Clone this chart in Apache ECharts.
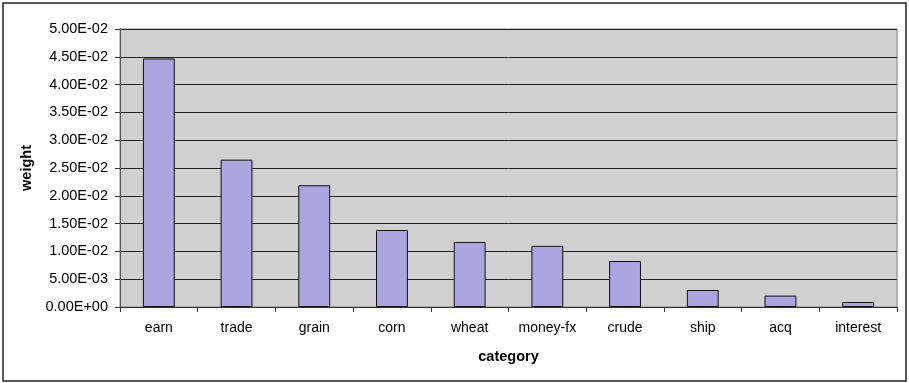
<!DOCTYPE html>
<html>
<head>
<meta charset="utf-8">
<script src="https://cdn.jsdelivr.net/npm/echarts@6/dist/echarts.min.js"></script>
<style>
html,body{margin:0;padding:0;background:#fff;}
#main{width:909px;height:383px;}
</style>
</head>
<body>
<div id="main"></div>
<script>
// categories and weights
var categories = ['earn','trade','grain','corn','wheat','money-fx','crude','ship','acq','interest'];
var weights = [0.0447, 0.0265, 0.0219, 0.01385, 0.0117, 0.0110, 0.00827, 0.00306, 0.00205, 0.0009];
var yMin = 0, yMax = 0.05, yStep = 0.005;

// 5.00E-02 style labels
function sci(v){
    var s = Number(v).toExponential(2).toUpperCase();
    var parts = s.split('E');
    var exp = parts[1];
    var sign = exp.charAt(0);
    var digits = exp.substring(1);
    if (digits.length < 2) digits = '0' + digits;
    return parts[0] + 'E' + sign + digits;
}

var myChart = echarts.init(document.getElementById('main'));
var option = {
    backgroundColor: '#fff',
    animation: false,
    textStyle: {fontFamily: 'Liberation Sans, Arial, sans-serif'},
    graphic: [{
        type: 'rect',
        shape: {x: 3, y: 3, width: 903, height: 378},
        style: {fill: 'none', stroke: '#222', lineWidth: 1.5},
        silent: true,
        z: 100
    }],
    grid: {
        left: 120,
        right: 12,
        top: 29,
        bottom: 76,
        show: true,
        backgroundColor: '#D0D0D0',
        borderColor: '#808080',
        borderWidth: 1
    },
    xAxis: {
        type: 'category',
        data: categories,
        name: 'category',
        nameLocation: 'middle',
        nameGap: 42,
        nameTextStyle: {fontSize: 14.5, fontWeight: 'bold', color: '#000'},
        axisLine: {lineStyle: {color: '#333', width: 1}},
        axisTick: {show: true, length: 5, lineStyle: {color: '#333'}},
        axisLabel: {fontSize: 14, color: '#000', margin: 14, interval: 0}
    },
    yAxis: {
        type: 'value',
        min: yMin,
        max: yMax,
        interval: yStep,
        name: 'weight',
        nameLocation: 'middle',
        nameGap: 82,
        nameTextStyle: {fontSize: 14.5, fontWeight: 'bold', color: '#000'},
        axisLine: {show: true, lineStyle: {color: '#555', width: 1}},
        axisTick: {show: true, length: 5, lineStyle: {color: '#333'}},
        axisLabel: {fontSize: 14.5, color: '#000', margin: 12, formatter: sci},
        splitLine: {show: true, lineStyle: {color: '#222', width: 1}}
    },
    series: [{
        name: 'weight',
        type: 'bar',
        data: weights,
        barWidth: '41%',
        itemStyle: {color: '#ABA5E0', borderColor: '#111', borderWidth: 1}
    }]
};
myChart.setOption(option);
</script>
</body>
</html>
